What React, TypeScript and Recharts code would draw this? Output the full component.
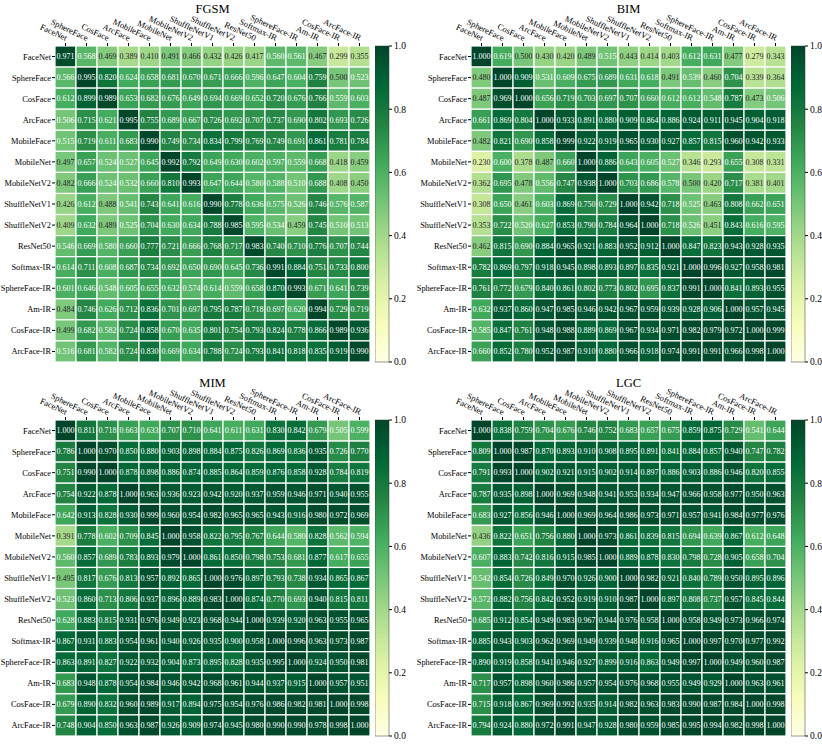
import React from 'react';
import { ScatterChart, Scatter, XAxis, YAxis, BarChart, Bar } from 'recharts';

const models = [
  'FaceNet', 'SphereFace', 'CosFace', 'ArcFace', 'MobileFace', 'MobileNet', 'MobileNetV2',
  'ShuffleNetV1', 'ShuffleNetV2', 'ResNet50', 'Softmax-IR', 'SphereFace-IR', 'Am-IR', 'CosFace-IR', 'ArcFace-IR',
];

const fgsm = [
  [0.971, 0.568, 0.469, 0.389, 0.410, 0.491, 0.466, 0.432, 0.426, 0.417, 0.560, 0.561, 0.467, 0.299, 0.355],
  [0.566, 0.995, 0.820, 0.624, 0.658, 0.681, 0.670, 0.671, 0.666, 0.596, 0.647, 0.604, 0.759, 0.500, 0.523],
  [0.612, 0.899, 0.989, 0.653, 0.682, 0.676, 0.649, 0.694, 0.669, 0.652, 0.720, 0.676, 0.766, 0.559, 0.603],
  [0.506, 0.715, 0.621, 0.995, 0.755, 0.689, 0.667, 0.726, 0.692, 0.707, 0.737, 0.690, 0.802, 0.693, 0.726],
  [0.515, 0.719, 0.611, 0.683, 0.990, 0.749, 0.734, 0.834, 0.799, 0.769, 0.749, 0.691, 0.861, 0.781, 0.784],
  [0.497, 0.657, 0.524, 0.527, 0.645, 0.992, 0.792, 0.649, 0.630, 0.602, 0.597, 0.559, 0.668, 0.418, 0.459],
  [0.482, 0.666, 0.524, 0.532, 0.660, 0.810, 0.993, 0.647, 0.644, 0.580, 0.588, 0.510, 0.688, 0.408, 0.450],
  [0.426, 0.612, 0.488, 0.541, 0.743, 0.641, 0.616, 0.990, 0.778, 0.636, 0.575, 0.526, 0.746, 0.576, 0.587],
  [0.409, 0.632, 0.489, 0.525, 0.704, 0.630, 0.634, 0.788, 0.985, 0.595, 0.534, 0.459, 0.745, 0.510, 0.513],
  [0.546, 0.669, 0.580, 0.660, 0.777, 0.721, 0.666, 0.768, 0.717, 0.983, 0.740, 0.710, 0.776, 0.707, 0.744],
  [0.614, 0.711, 0.608, 0.687, 0.734, 0.692, 0.650, 0.690, 0.645, 0.736, 0.991, 0.884, 0.751, 0.733, 0.800],
  [0.601, 0.646, 0.548, 0.605, 0.655, 0.632, 0.574, 0.614, 0.559, 0.658, 0.870, 0.993, 0.671, 0.641, 0.739],
  [0.484, 0.746, 0.626, 0.712, 0.836, 0.701, 0.697, 0.795, 0.787, 0.718, 0.697, 0.620, 0.994, 0.729, 0.719],
  [0.499, 0.682, 0.582, 0.724, 0.858, 0.670, 0.635, 0.801, 0.754, 0.793, 0.824, 0.778, 0.866, 0.989, 0.936],
  [0.516, 0.681, 0.582, 0.724, 0.830, 0.669, 0.634, 0.788, 0.724, 0.793, 0.841, 0.818, 0.835, 0.919, 0.990],
];

const bim = [
  [1.000, 0.619, 0.500, 0.430, 0.420, 0.489, 0.515, 0.443, 0.414, 0.403, 0.612, 0.631, 0.477, 0.279, 0.343],
  [0.480, 1.000, 0.909, 0.531, 0.609, 0.675, 0.689, 0.631, 0.618, 0.491, 0.539, 0.460, 0.704, 0.339, 0.364],
  [0.487, 0.969, 1.000, 0.656, 0.719, 0.703, 0.697, 0.707, 0.660, 0.612, 0.612, 0.548, 0.787, 0.473, 0.506],
  [0.661, 0.869, 0.804, 1.000, 0.933, 0.891, 0.880, 0.909, 0.864, 0.886, 0.924, 0.911, 0.945, 0.904, 0.918],
  [0.482, 0.821, 0.690, 0.858, 0.999, 0.922, 0.919, 0.965, 0.930, 0.927, 0.857, 0.815, 0.960, 0.942, 0.933],
  [0.230, 0.600, 0.378, 0.487, 0.660, 1.000, 0.886, 0.643, 0.605, 0.527, 0.346, 0.293, 0.655, 0.308, 0.331],
  [0.362, 0.695, 0.478, 0.556, 0.747, 0.938, 1.000, 0.703, 0.686, 0.578, 0.500, 0.420, 0.717, 0.381, 0.401],
  [0.308, 0.650, 0.461, 0.603, 0.869, 0.750, 0.729, 1.000, 0.942, 0.718, 0.525, 0.463, 0.808, 0.662, 0.651],
  [0.353, 0.722, 0.520, 0.627, 0.853, 0.790, 0.784, 0.964, 1.000, 0.718, 0.526, 0.451, 0.843, 0.616, 0.595],
  [0.462, 0.815, 0.690, 0.884, 0.965, 0.921, 0.883, 0.952, 0.912, 1.000, 0.847, 0.823, 0.943, 0.928, 0.935],
  [0.782, 0.869, 0.797, 0.918, 0.945, 0.898, 0.893, 0.897, 0.835, 0.921, 1.000, 0.996, 0.927, 0.958, 0.981],
  [0.761, 0.772, 0.679, 0.840, 0.861, 0.802, 0.773, 0.802, 0.695, 0.837, 0.991, 1.000, 0.841, 0.893, 0.955],
  [0.632, 0.937, 0.860, 0.947, 0.985, 0.946, 0.942, 0.967, 0.959, 0.939, 0.928, 0.906, 1.000, 0.957, 0.945],
  [0.585, 0.847, 0.761, 0.948, 0.988, 0.889, 0.869, 0.967, 0.934, 0.971, 0.982, 0.979, 0.972, 1.000, 0.999],
  [0.660, 0.852, 0.780, 0.952, 0.987, 0.910, 0.880, 0.966, 0.918, 0.974, 0.991, 0.991, 0.966, 0.998, 1.000],
];

const mim = [
  [1.000, 0.811, 0.718, 0.663, 0.633, 0.707, 0.710, 0.641, 0.611, 0.631, 0.830, 0.842, 0.679, 0.505, 0.599],
  [0.786, 1.000, 0.970, 0.850, 0.880, 0.903, 0.898, 0.884, 0.875, 0.826, 0.869, 0.836, 0.935, 0.726, 0.770],
  [0.751, 0.990, 1.000, 0.878, 0.898, 0.886, 0.874, 0.885, 0.864, 0.859, 0.876, 0.858, 0.928, 0.784, 0.819],
  [0.754, 0.922, 0.878, 1.000, 0.963, 0.936, 0.923, 0.942, 0.920, 0.937, 0.959, 0.946, 0.971, 0.940, 0.955],
  [0.642, 0.913, 0.828, 0.930, 0.999, 0.960, 0.954, 0.982, 0.965, 0.965, 0.943, 0.916, 0.980, 0.972, 0.969],
  [0.391, 0.778, 0.602, 0.709, 0.845, 1.000, 0.958, 0.822, 0.795, 0.767, 0.644, 0.580, 0.828, 0.562, 0.594],
  [0.560, 0.857, 0.689, 0.783, 0.893, 0.979, 1.000, 0.861, 0.850, 0.798, 0.753, 0.681, 0.877, 0.617, 0.655],
  [0.495, 0.817, 0.676, 0.813, 0.957, 0.892, 0.865, 1.000, 0.976, 0.897, 0.793, 0.738, 0.934, 0.865, 0.867],
  [0.523, 0.860, 0.713, 0.806, 0.937, 0.896, 0.889, 0.983, 1.000, 0.874, 0.770, 0.693, 0.940, 0.815, 0.811],
  [0.628, 0.883, 0.815, 0.931, 0.976, 0.949, 0.923, 0.968, 0.944, 1.000, 0.939, 0.920, 0.963, 0.955, 0.965],
  [0.867, 0.931, 0.883, 0.954, 0.961, 0.940, 0.926, 0.935, 0.900, 0.958, 1.000, 0.996, 0.963, 0.973, 0.987],
  [0.863, 0.891, 0.827, 0.922, 0.932, 0.904, 0.873, 0.895, 0.828, 0.935, 0.995, 1.000, 0.924, 0.950, 0.981],
  [0.683, 0.948, 0.878, 0.954, 0.984, 0.946, 0.942, 0.968, 0.961, 0.944, 0.937, 0.915, 1.000, 0.957, 0.951],
  [0.679, 0.890, 0.832, 0.960, 0.989, 0.917, 0.894, 0.975, 0.954, 0.976, 0.986, 0.982, 0.981, 1.000, 0.998],
  [0.748, 0.904, 0.850, 0.963, 0.987, 0.926, 0.909, 0.974, 0.945, 0.980, 0.990, 0.990, 0.978, 0.998, 1.000],
];

const lgc = [
  [1.000, 0.838, 0.759, 0.704, 0.676, 0.746, 0.752, 0.683, 0.657, 0.675, 0.859, 0.875, 0.729, 0.541, 0.644],
  [0.809, 1.000, 0.987, 0.870, 0.893, 0.910, 0.908, 0.895, 0.891, 0.841, 0.884, 0.857, 0.940, 0.747, 0.782],
  [0.791, 0.993, 1.000, 0.902, 0.921, 0.915, 0.902, 0.914, 0.897, 0.886, 0.903, 0.886, 0.946, 0.820, 0.855],
  [0.787, 0.935, 0.898, 1.000, 0.969, 0.948, 0.941, 0.953, 0.934, 0.947, 0.966, 0.958, 0.977, 0.950, 0.963],
  [0.683, 0.927, 0.856, 0.946, 1.000, 0.969, 0.964, 0.986, 0.973, 0.971, 0.957, 0.941, 0.984, 0.977, 0.976],
  [0.436, 0.822, 0.651, 0.756, 0.880, 1.000, 0.973, 0.861, 0.839, 0.815, 0.694, 0.639, 0.867, 0.612, 0.648],
  [0.607, 0.883, 0.742, 0.816, 0.915, 0.985, 1.000, 0.889, 0.878, 0.830, 0.798, 0.728, 0.905, 0.658, 0.704],
  [0.542, 0.854, 0.726, 0.849, 0.970, 0.926, 0.900, 1.000, 0.982, 0.921, 0.840, 0.789, 0.950, 0.895, 0.896],
  [0.572, 0.882, 0.756, 0.842, 0.952, 0.919, 0.910, 0.987, 1.000, 0.897, 0.808, 0.737, 0.957, 0.845, 0.844],
  [0.685, 0.912, 0.854, 0.949, 0.983, 0.967, 0.944, 0.976, 0.958, 1.000, 0.958, 0.949, 0.973, 0.966, 0.974],
  [0.885, 0.943, 0.903, 0.962, 0.969, 0.949, 0.939, 0.948, 0.916, 0.965, 1.000, 0.997, 0.970, 0.977, 0.992],
  [0.890, 0.919, 0.858, 0.941, 0.946, 0.927, 0.899, 0.916, 0.863, 0.949, 0.997, 1.000, 0.949, 0.960, 0.987],
  [0.717, 0.957, 0.898, 0.960, 0.986, 0.957, 0.954, 0.976, 0.968, 0.955, 0.949, 0.929, 1.000, 0.963, 0.961],
  [0.715, 0.918, 0.867, 0.969, 0.992, 0.935, 0.914, 0.982, 0.963, 0.983, 0.990, 0.987, 0.984, 1.000, 0.998],
  [0.794, 0.924, 0.880, 0.972, 0.991, 0.947, 0.928, 0.980, 0.959, 0.985, 0.995, 0.994, 0.982, 0.998, 1.000],
];

const cbarTicks = [0, 0.2, 0.4, 0.6, 0.8, 1.0];

// YlGn colour stops
const ylgn = ['#ffffe5', '#f7fcb9', '#d9f0a3', '#addd8e', '#78c679', '#41ab5d', '#238443', '#006837', '#004529'];

const FONT = '"Liberation Serif", "Times New Roman", serif';
const N = models.length;
const PW = 315;
const PH = 316;
const LEFT = 55;
const TOP = 46;
const ANG = 25;
const idx = models.map((_, i) => i);

function hex(c: string) {
  return [1, 3, 5].map((i) => parseInt(c.slice(i, i + 2), 16));
}

function cmap(v: number) {
  const t = Math.max(0, Math.min(1, v)) * 8;
  const i = Math.min(7, Math.floor(t));
  const f = t - i;
  const a = hex(ylgn[i]);
  const b = hex(ylgn[i + 1]);
  const rgb = a.map((x, k) => Math.round(x + (b[k] - x) * f));
  return `rgb(${rgb.join(',')})`;
}

const ColTick = (props: any) => {
  const { x, y, payload } = props;
  return (
    <text
      x={x}
      y={y}
      transform={`rotate(${ANG}, ${x}, ${y})`}
      textAnchor="end"
      fontSize={8.6}
      fontFamily={FONT}
      fill="#000"
    >
      {models[payload.value]}
    </text>
  );
};

function Heatmap({ title, data, left, top }: { title: string; data: number[][]; left: number; top: number }) {
  const points = data.flatMap((row, r) => row.map((v, c) => ({ x: c, y: r, v })));
  const cw = PW / N;
  const ch = PH / N;
  const renderCell = (p: any) => {
    const { cx, cy, payload } = p;
    const v = payload.v;
    return (
      <g>
        <rect x={cx - cw / 2} y={cy - ch / 2} width={cw} height={ch} fill={cmap(v)} stroke="#fff" strokeWidth={1.2} />
        <text
          x={cx}
          y={cy}
          dy="0.35em"
          textAnchor="middle"
          fontSize={8}
          fontFamily={FONT}
          fill={v > 0.503 ? '#fff' : '#262626'}
        >
          {v.toFixed(3)}
        </text>
      </g>
    );
  };
  return (
    <div style={{ position: 'absolute', left, top }}>
      <div
        style={{
          position: 'absolute',
          left: LEFT,
          width: PW,
          top: 0,
          textAlign: 'center',
          fontSize: 12.5,
          lineHeight: '18px',
          fontFamily: FONT,
        }}
      >
        {title}
      </div>
      <ScatterChart width={LEFT + PW + 2} height={TOP + PH + 4} margin={{ top: 0, right: 2, bottom: 4, left: 0 }}>
        <XAxis
          type="number"
          dataKey="x"
          orientation="top"
          domain={[-0.5, N - 0.5]}
          ticks={idx}
          interval={0}
          height={TOP}
          tick={<ColTick />}
          tickSize={3}
          tickMargin={2}
          axisLine={false}
          tickLine={{ stroke: '#000' }}
          allowDataOverflow
        />
        <YAxis
          type="number"
          dataKey="y"
          reversed
          domain={[-0.5, N - 0.5]}
          ticks={idx}
          interval={0}
          width={LEFT}
          tickFormatter={(i: number) => models[i]}
          tick={{ fontSize: 8.4, fill: '#000', fontFamily: FONT }}
          tickSize={3}
          tickMargin={1}
          axisLine={false}
          tickLine={{ stroke: '#000' }}
          allowDataOverflow
        />
        <Scatter data={points} shape={renderCell} isAnimationActive={false} />
      </ScatterChart>
    </div>
  );
}

function ColorBar({ left, top, id }: { left: number; top: number; id: string }) {
  return (
    <div style={{ position: 'absolute', left, top }}>
      <BarChart
        width={14 + 34}
        height={TOP + PH + 10}
        data={[{ k: 'c', v: 1 }]}
        margin={{ top: TOP, right: 0, bottom: 10, left: 0 }}
        barCategoryGap={0}
      >
        <defs>
          <linearGradient id={id} x1="0" y1="1" x2="0" y2="0">
            {ylgn.map((c, i) => (
              <stop key={i} offset={i / 8} stopColor={c} />
            ))}
          </linearGradient>
        </defs>
        <XAxis dataKey="k" hide />
        <YAxis
          orientation="right"
          domain={[0, 1]}
          ticks={cbarTicks}
          interval={0}
          width={34}
          tickFormatter={(v: number) => v.toFixed(1)}
          tick={{ fontSize: 9.5, fill: '#000', fontFamily: FONT }}
          tickSize={3}
          tickMargin={2}
          axisLine={false}
          tickLine={{ stroke: '#000' }}
        />
        <Bar dataKey="v" fill={`url(#${id})`} stroke="#333" strokeWidth={0.5} isAnimationActive={false} />
      </BarChart>
    </div>
  );
}

const panels = [
  { title: 'FGSM', data: fgsm, left: 0, top: 0 },
  { title: 'BIM', data: bim, left: 416, top: 0 },
  { title: 'MIM', data: mim, left: 0, top: 374 },
  { title: 'LGC', data: lgc, left: 416, top: 374 },
];

export default function App() {
  return (
    <div style={{ position: 'absolute', left: 0, top: 0, width: 822, height: 746, background: '#fff', fontFamily: FONT }}>
      {panels.map((p, i) => (
        <React.Fragment key={p.title}>
          <Heatmap title={p.title} data={p.data} left={p.left} top={p.top} />
          <ColorBar left={p.left + LEFT + PW + 5} top={p.top} id={`cbar${i}`} />
        </React.Fragment>
      ))}
    </div>
  );
}
